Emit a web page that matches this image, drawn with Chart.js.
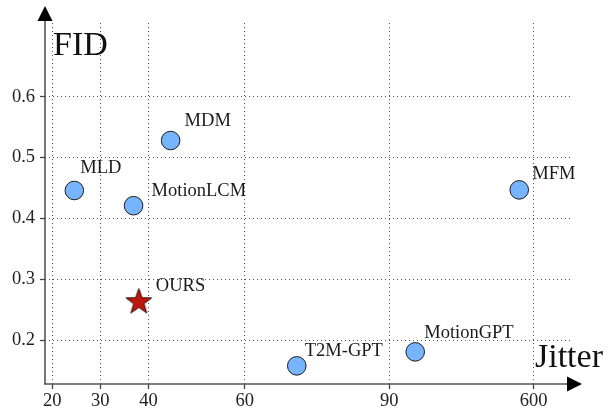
<!DOCTYPE html>
<html>
<head>
<meta charset="utf-8">
<script src="https://cdn.jsdelivr.net/npm/chart.js@4/dist/chart.umd.min.js"></script>
<style>
  html, body { margin: 0; padding: 0; background: #fff; }
  #wrap { width: 615px; height: 409px; }
</style>
</head>
<body>
<div id="wrap"><canvas id="c" width="615" height="409"></canvas></div>
<script>
// Baseline methods: jitter vs. FID
const methods = ['MLD', 'MDM', 'MotionLCM', 'T2M-GPT', 'MotionGPT', 'MFM'];
const jitter  = [24.6, 44.6, 36.9, 70.8, 95.4, 597];
const fid     = [0.446, 0.528, 0.421, 0.158, 0.181, 0.447];

// Our method
const oursName   = 'OURS';
const oursJitter = [38.0];
const oursFid    = [0.265];

// Axis tick labels
const xTicks = [20, 30, 40, 60, 90, 600];
const yTicks = [0.2, 0.3, 0.4, 0.5, 0.6];

// The jitter axis is broken between 90 and 600: values past the break are shifted left.
const BREAK_AT = 200, BREAK_GAP = 480;
const toAxis = v => (v > BREAK_AT ? v - BREAK_GAP : v);

// Label placement (dx, dy from marker centre to text start / baseline)
const labelOffsets = [[6, -17], [14, -15], [18, -10], [8, -10], [9, -14], [13, -11]];
const oursOffset = [17, -10];

const SERIF = '"Liberation Serif", "DejaVu Serif", serif';

// Filled five-point star used as the marker for our method
function makeStar(R, fill, stroke) {
  const size = Math.ceil(2 * R + 4);
  const cv = document.createElement('canvas');
  cv.width = size; cv.height = size;
  const g = cv.getContext('2d');
  const cx = size / 2, cy = size / 2 + R * 0.1;
  const r = R * 0.4;
  g.beginPath();
  for (let k = 0; k < 10; k++) {
    const rad = k % 2 === 0 ? R : r;
    const a = -Math.PI / 2 + k * Math.PI / 5;
    const px = cx + rad * Math.cos(a), py = cy + rad * Math.sin(a);
    k === 0 ? g.moveTo(px, py) : g.lineTo(px, py);
  }
  g.closePath();
  g.fillStyle = fill; g.fill();
  g.lineWidth = 1; g.strokeStyle = stroke; g.stroke();
  return cv;
}
const starImg = makeStar(13.5, '#c0150d', '#2b0a08');

// Axis lines with arrowheads, axis titles and point labels
const decorations = {
  id: 'decorations',
  afterDatasetsDraw(chart) {
    const ctx = chart.ctx;
    const a = chart.chartArea;
    ctx.save();
    // point labels
    ctx.font = '18.5px ' + SERIF;
    ctx.fillStyle = '#1a1a1a';
    ctx.textBaseline = 'alphabetic';
    ctx.textAlign = 'left';
    chart.getDatasetMeta(0).data.forEach((pt, i) => {
      ctx.fillText(methods[i], pt.x + labelOffsets[i][0], pt.y + labelOffsets[i][1]);
    });
    const op = chart.getDatasetMeta(1).data[0];
    ctx.fillText(oursName, op.x + oursOffset[0], op.y + oursOffset[1]);

    // axes
    const x0 = a.left, y0 = a.bottom;
    ctx.strokeStyle = '#555';
    ctx.lineWidth = 1.6;
    ctx.beginPath();
    ctx.moveTo(x0 - 1, y0); ctx.lineTo(568, y0);
    ctx.moveTo(x0, y0 + 0.5); ctx.lineTo(x0, 21);
    ctx.stroke();
    ctx.fillStyle = '#000';
    ctx.beginPath();
    ctx.moveTo(582, y0); ctx.lineTo(567, y0 - 7.5); ctx.lineTo(567, y0 + 7.5); ctx.closePath();
    ctx.fill();
    ctx.beginPath();
    ctx.moveTo(x0, 6); ctx.lineTo(x0 - 7.5, 21); ctx.lineTo(x0 + 7.5, 21); ctx.closePath();
    ctx.fill();

    // axis titles
    ctx.fillStyle = '#111';
    ctx.font = '34px ' + SERIF;
    ctx.fillText('FID', 53, 55);
    ctx.fillText('Jitter', 535, 367);
    ctx.restore();
  }
};

new Chart(document.getElementById('c'), {
  type: 'scatter',
  data: {
    datasets: [
      {
        label: 'Baselines',
        data: methods.map((m, i) => ({ x: toAxis(jitter[i]), y: fid[i] })),
        pointStyle: 'circle',
        pointRadius: 9.3,
        pointBackgroundColor: '#76b4fd',
        pointBorderColor: '#1b1b1b',
        pointBorderWidth: 1
      },
      {
        label: oursName,
        data: oursJitter.map((v, i) => ({ x: toAxis(v), y: oursFid[i] })),
        pointStyle: starImg,
        pointRadius: 14
      }
    ]
  },
  options: {
    responsive: false,
    animation: false,
    devicePixelRatio: 1,
    layout: { padding: { top: 23, right: 43, left: 0, bottom: 0 } },
    plugins: { legend: { display: false }, tooltip: { enabled: false } },
    scales: {
      x: {
        type: 'linear',
        min: 18.51,
        max: 127.96,
        afterBuildTicks: s => { s.ticks = xTicks.map(v => ({ value: toAxis(v) })); },
        afterFit: s => { s.height = 25; },
        ticks: {
          autoSkip: false,
          maxRotation: 0,
          padding: 1,
          color: '#222',
          font: { family: SERIF, size: 18.5 },
          callback: (v, i) => String(xTicks[i])
        },
        grid: {
          color: '#555',
          lineWidth: 1,
          tickLength: 5,
          tickColor: '#444',
          tickWidth: 1.3,
          tickBorderDash: []
        },
        border: { display: false, dash: [1, 3] }
      },
      y: {
        type: 'linear',
        min: 0.1282,
        max: 0.721,
        afterBuildTicks: s => { s.ticks = yTicks.map(v => ({ value: v })); },
        afterFit: s => { s.width = 45; },
        ticks: {
          autoSkip: false,
          padding: 5,
          color: '#222',
          font: { family: SERIF, size: 18.5 },
          callback: (v) => Number(v).toFixed(1)
        },
        grid: {
          color: '#555',
          lineWidth: 1,
          tickLength: 5,
          tickColor: '#444',
          tickWidth: 1.3,
          tickBorderDash: []
        },
        border: { display: false, dash: [1, 3] }
      }
    }
  },
  plugins: [decorations]
});
</script>
</body>
</html>
